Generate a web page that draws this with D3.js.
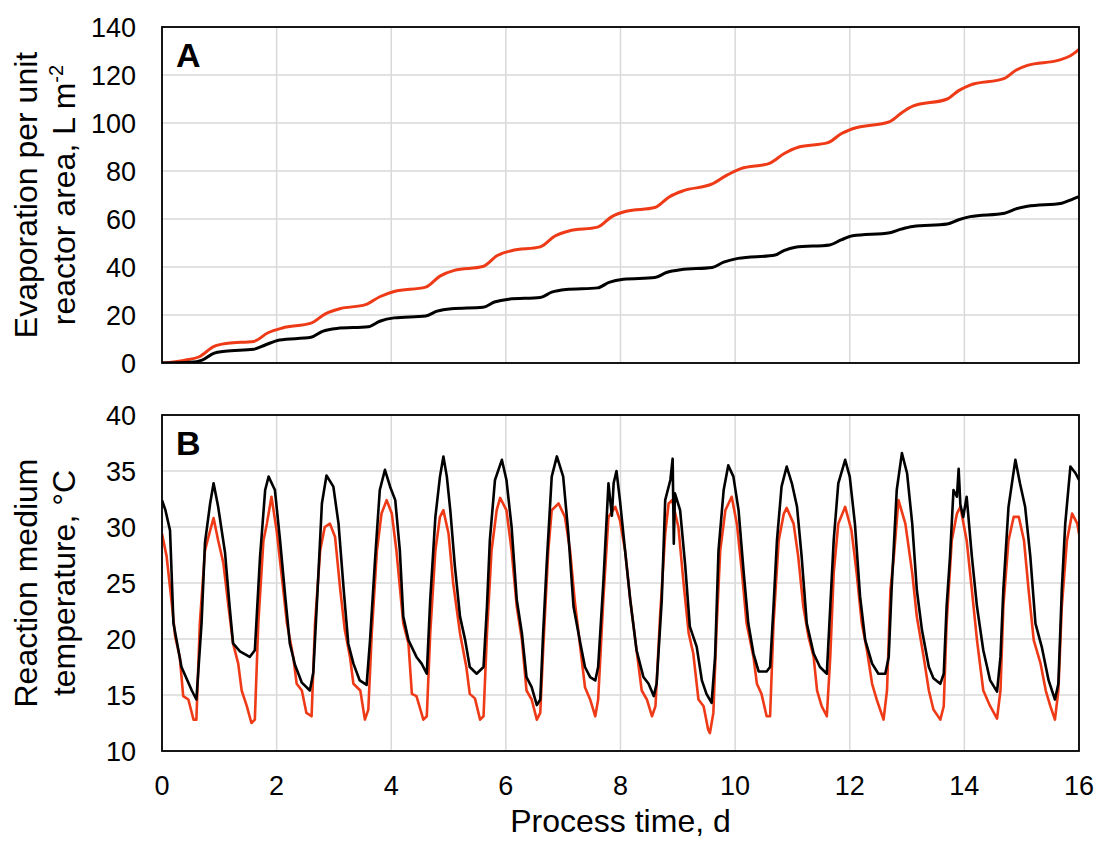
<!DOCTYPE html>
<html>
<head>
<meta charset="utf-8">
<script src="https://cdn.jsdelivr.net/npm/d3@7"></script>
<style>
  body { margin: 0; background: #fff; }
  svg { font-family: "Liberation Sans", Arial, sans-serif; }
</style>
</head>
<body>
<div class="canvas"></div>
<script>
// ---- data ----
const dayTicks = [0, 2, 4, 6, 8, 10, 12, 14, 16];
const evapTicks = [0, 20, 40, 60, 80, 100, 120, 140];
const tempTicks = [10, 15, 20, 25, 30, 35, 40];

// panel A: cumulative evaporation, [day, L m-2]
const evapRed = [[0,0],[0.4,1.2],[0.65,2.6],[0.9,6.8],[1.15,8.2],[1.6,9],[1.85,12.6],[2.1,14.6],
  [2.6,16.6],[2.85,20.5],[3.1,22.6],[3.55,24.3],[3.8,27.6],[4.05,29.8],[4.6,31.6],[4.85,36.2],
  [5.1,38.6],[5.6,40.2],[5.85,44.8],[6.1,46.8],[6.6,48.4],[6.85,52.8],[7.1,55],[7.6,56.6],
  [7.85,61],[8.1,63.2],[8.6,64.8],[8.85,69.2],[9.1,71.8],[9.6,74.6],[9.85,78.2],[10.1,81],
  [10.6,83.2],[10.85,87.2],[11.1,89.9],[11.62,91.8],[11.85,95.5],[12.05,97.6],[12.7,100.6],
  [12.92,104.5],[13.1,107],[13.7,110],[13.9,113.5],[14.1,115.8],[14.7,118.6],[14.9,122],
  [15.1,124],[15.65,126.2],[15.85,128],[16,130.7]];
const evapBlack = [[0,0],[0.5,0.3],[0.7,1.2],[0.9,4],[1.1,4.9],[1.6,5.7],[1.8,7.5],[2.05,9.6],
  [2.6,10.7],[2.8,13.2],[3.05,14.4],[3.6,15.1],[3.8,17.4],[4.05,18.8],[4.6,19.6],[4.8,21.6],
  [5.05,22.6],[5.6,23.2],[5.8,25.4],[6.05,26.6],[6.6,27.3],[6.8,29.5],[7.05,30.6],[7.6,31.3],
  [7.8,33.6],[8.05,34.9],[8.6,35.6],[8.8,37.7],[9.05,38.9],[9.6,39.8],[9.8,42],[10.05,43.6],
  [10.7,45],[10.85,46.8],[11.05,48.2],[11.65,49.2],[11.85,51.3],[12.05,53],[12.7,54.3],
  [12.9,55.8],[13.1,56.9],[13.7,57.9],[13.9,59.7],[14.1,61],[14.7,62.4],[14.9,64.2],
  [15.1,65.3],[15.7,66.6],[15.9,68.4],[16,69.3]];

// panel B: reaction medium temperature, [day, °C]
const tempBlack = [[0,32.4],[0.06,31.5],[0.14,29.7],[0.2,21.4],[0.34,17.5],[0.52,15.4],[0.6,14.6],
  [0.69,21.4],[0.75,28.6],[0.84,32.1],[0.9,33.9],[0.98,31.8],[1.1,27.7],[1.18,22.9],[1.24,19.6],
  [1.36,18.9],[1.53,18.4],[1.62,19],[1.71,27.3],[1.8,33.3],[1.86,34.5],[1.97,33.3],[2.06,28.8],
  [2.15,23.8],[2.23,19.6],[2.32,17.7],[2.44,16.1],[2.58,15.4],[2.64,17],[2.73,25.9],[2.79,32.1],
  [2.87,34.6],[2.99,33.6],[3.08,30.3],[3.17,24.4],[3.25,19.6],[3.34,17.8],[3.45,16.3],[3.57,15.9],
  [3.63,19.9],[3.72,27.3],[3.8,33.3],[3.89,35.1],[3.98,33.6],[4.07,32.4],[4.15,27.9],[4.21,22],
  [4.3,19.9],[4.44,18.4],[4.53,17.8],[4.62,16.9],[4.68,23.5],[4.77,30.9],[4.85,34.5],[4.91,36.3],
  [4.97,34.5],[5.03,31.5],[5.11,26.5],[5.2,22],[5.29,19.9],[5.37,17.5],[5.49,16.9],[5.61,17.5],
  [5.67,22.9],[5.72,28.8],[5.81,34.2],[5.93,36],[6.01,34.2],[6.1,30],[6.19,23.5],[6.28,20.5],
  [6.36,16.6],[6.45,15.7],[6.54,14.1],[6.6,14.6],[6.65,20.5],[6.71,26.5],[6.8,34.5],[6.89,36.3],
  [7,34.5],[7.09,29.4],[7.18,22.9],[7.3,19.6],[7.38,17.5],[7.47,16.6],[7.56,16.3],[7.61,17.5],
  [7.7,25],[7.79,33.9],[7.85,31],[7.88,33.9],[7.93,35],[7.99,32.4],[8.08,27.9],[8.17,23.5],
  [8.28,19],[8.4,16.6],[8.49,16],[8.58,14.9],[8.63,16],[8.72,23.5],[8.78,32.4],[8.87,34.2],
  [8.91,36.1],[8.93,28.5],[8.95,33],[9.04,31.5],[9.13,26.5],[9.21,21.1],[9.33,19.3],[9.42,16.3],
  [9.5,15.1],[9.59,14.3],[9.65,18.4],[9.71,27.9],[9.8,33.3],[9.88,35.5],[9.97,34.5],[10.06,31.5],
  [10.15,25.9],[10.23,21.4],[10.32,18.7],[10.41,17.1],[10.55,17.1],[10.61,17.5],[10.67,22.9],
  [10.73,28.8],[10.81,33.6],[10.9,35.4],[10.99,33.9],[11.08,31.8],[11.16,27.4],[11.25,21.4],
  [11.37,18.7],[11.48,17.5],[11.6,16.9],[11.66,22.9],[11.72,28.8],[11.8,33.9],[11.92,36],
  [12,34.5],[12.09,30.3],[12.18,23.8],[12.27,19.9],[12.39,17.8],[12.5,16.9],[12.62,16.9],
  [12.68,18.4],[12.73,24.4],[12.82,33.3],[12.91,36.6],[13,34.8],[13.09,30.3],[13.17,24.4],
  [13.26,20.8],[13.38,17.5],[13.46,16.5],[13.58,16],[13.64,16.9],[13.69,22.9],[13.75,27.4],
  [13.81,33.3],[13.87,32.7],[13.9,35.2],[13.93,32],[13.98,30.9],[14.04,32.7],[14.13,27.4],
  [14.22,22.9],[14.33,19],[14.45,16.3],[14.57,15.3],[14.63,18.4],[14.68,24.4],[14.77,31.8],
  [14.89,36],[14.97,33.9],[15.06,31.8],[15.15,27.4],[15.24,21.4],[15.35,19.3],[15.47,16.3],
  [15.58,14.6],[15.64,16],[15.7,24.4],[15.76,30.3],[15.85,35.4],[15.94,34.8],[16,34.2]];
const tempRed = [[0,29.4],[0.08,27.4],[0.17,23.2],[0.23,20.2],[0.31,18.4],[0.37,14.9],[0.46,14.6],
  [0.55,12.8],[0.6,12.8],[0.66,21.4],[0.75,27.9],[0.84,29.7],[0.9,30.8],[0.98,28.8],[1.07,26.8],
  [1.16,22.9],[1.24,19.6],[1.33,17.8],[1.39,15.4],[1.48,14],[1.56,12.5],[1.62,12.8],[1.68,21.4],
  [1.77,28.8],[1.83,30.3],[1.91,32.7],[2,29.7],[2.09,25.6],[2.18,21.4],[2.29,18.4],[2.35,16],
  [2.44,15.4],[2.52,13.4],[2.61,13.1],[2.67,21.4],[2.76,27.9],[2.84,30],[2.93,30.3],[3.02,29.1],
  [3.11,24.4],[3.19,20.8],[3.28,18.4],[3.34,16],[3.46,15.4],[3.54,12.8],[3.6,13.7],[3.66,20.5],
  [3.75,27.9],[3.83,31.2],[3.92,32.4],[4.01,31.2],[4.09,27.9],[4.21,21.4],[4.3,19.6],[4.36,15.1],
  [4.44,14.9],[4.56,12.8],[4.62,13.1],[4.68,20.5],[4.77,27.9],[4.85,30.9],[4.91,31.5],[5,29.4],
  [5.08,25],[5.2,20.5],[5.31,17.5],[5.37,15.1],[5.46,14.7],[5.55,12.8],[5.61,13.1],[5.67,20.5],
  [5.75,27.9],[5.84,31.5],[5.9,32.6],[6.01,31.5],[6.1,27.9],[6.19,22.9],[6.28,19.9],[6.36,15.4],
  [6.45,14.6],[6.54,12.8],[6.6,13.4],[6.65,19],[6.74,27.9],[6.8,31.5],[6.92,32.1],[7.03,30.9],
  [7.12,27.9],[7.2,23.5],[7.29,19.6],[7.38,15.7],[7.47,14.6],[7.56,13.1],[7.61,14.6],[7.7,23.5],
  [7.79,30.9],[7.91,31.8],[7.99,30.6],[8.08,27.9],[8.17,23.5],[8.28,19],[8.37,15.4],[8.46,14.6],
  [8.55,13.1],[8.61,14],[8.69,22],[8.78,29.4],[8.84,32.1],[8.9,32.4],[9.01,30],[9.1,25],
  [9.19,20.5],[9.27,18.7],[9.36,14.6],[9.45,14],[9.53,11.9],[9.56,11.6],[9.62,13.4],[9.68,21.4],
  [9.74,27.9],[9.83,31.5],[9.94,32.7],[10.03,30.3],[10.12,25.9],[10.2,21.4],[10.32,18.4],
  [10.38,16],[10.46,15.1],[10.55,13.1],[10.61,13.1],[10.67,21.4],[10.76,28.8],[10.85,31.2],
  [10.9,31.7],[11.02,30.3],[11.1,27.4],[11.19,22.9],[11.28,20.2],[11.37,18.4],[11.43,15.4],
  [11.51,14],[11.6,13.1],[11.66,18.4],[11.72,25.9],[11.8,30.3],[11.92,31.8],[12.03,29.7],
  [12.12,25.9],[12.21,21.4],[12.3,19],[12.39,16],[12.47,14.6],[12.59,12.8],[12.65,15.4],
  [12.71,24.4],[12.77,27.4],[12.85,32.4],[12.97,30.3],[13.09,25.9],[13.17,22],[13.29,18.4],
  [13.38,15.4],[13.46,13.7],[13.58,12.8],[13.64,14],[13.69,21.4],[13.78,28.8],[13.87,31.2],
  [13.93,31.8],[14.04,28.8],[14.13,24.4],[14.22,19.9],[14.33,15.4],[14.45,14],[14.57,12.9],
  [14.63,15.4],[14.68,22.9],[14.77,28.8],[14.86,30.9],[14.95,30.9],[15.04,28.8],[15.12,24.4],
  [15.21,19.9],[15.33,17.8],[15.42,15.4],[15.5,14],[15.58,12.8],[15.64,15.4],[15.7,22.9],
  [15.79,28.8],[15.88,31.2],[15.97,30.3],[16,29.4]];

const RED = "#ee3a16";
const GRID = "#d9d9d9";

const dims = {width: 1099, height: 841};
const plot = {left: 162, right: 1079};
const panels = [
  {top: 27, bottom: 363, domain: [0, 140], ticks: evapTicks, letter: "A", curve: d3.curveMonotoneX,
   series: [{data: evapRed, color: RED, w: 3}, {data: evapBlack, color: "#000", w: 3}],
   title: ["Evaporation per unit", "reactor area, L m"], sup: "-2"},
  {top: 415, bottom: 751, domain: [10, 40], ticks: tempTicks, letter: "B", curve: d3.curveLinear,
   series: [{data: tempRed, color: RED, w: 2.6}, {data: tempBlack, color: "#000", w: 2.6}],
   title: ["Reaction medium", "temperature, \u00b0C"]}
];

const svg = d3.select(".canvas").append("svg")
    .attr("width", dims.width)
    .attr("height", dims.height);

const x = d3.scaleLinear().domain([0, 16]).range([plot.left, plot.right]);

panels.forEach((p, k) => {
  const y = d3.scaleLinear().domain(p.domain).range([p.bottom, p.top]);
  const g = svg.append("g");

  // gridlines
  g.selectAll(".hgrid").data(p.ticks).enter().append("line")
      .attr("x1", plot.left).attr("x2", plot.right)
      .attr("y1", d => y(d)).attr("y2", d => y(d))
      .attr("stroke", GRID).attr("stroke-width", 1.5);
  g.selectAll(".vgrid").data(dayTicks).enter().append("line")
      .attr("x1", d => x(d)).attr("x2", d => x(d))
      .attr("y1", p.top).attr("y2", p.bottom)
      .attr("stroke", GRID).attr("stroke-width", 1.5);

  // y tick labels
  g.selectAll(".ylab").data(p.ticks).enter().append("text")
      .attr("x", 136).attr("y", d => y(d) + 9.5)
      .attr("text-anchor", "end")
      .attr("font-size", 27)
      .text(d => d);

  // clip and lines
  svg.append("clipPath").attr("id", "clip" + k)
    .append("rect")
      .attr("x", plot.left).attr("y", p.top)
      .attr("width", plot.right - plot.left).attr("height", p.bottom - p.top);

  const line = d3.line().curve(p.curve).x(d => x(d[0])).y(d => y(d[1]));
  p.series.forEach(s => {
    g.append("path")
        .attr("clip-path", `url(#clip${k})`)
        .attr("d", line(s.data))
        .attr("fill", "none")
        .attr("stroke", s.color)
        .attr("stroke-width", s.w)
        .attr("stroke-linejoin", "round");
  });

  // frame
  g.append("rect")
      .attr("x", plot.left).attr("y", p.top)
      .attr("width", plot.right - plot.left).attr("height", p.bottom - p.top)
      .attr("fill", "none").attr("stroke", "#000").attr("stroke-width", 1.8);

  // panel letter
  g.append("text")
      .attr("x", 176).attr("y", p.top + 40)
      .attr("font-size", 34).attr("font-weight", "bold")
      .text(p.letter);

  // y title (two lines, rotated)
  const cy = (p.top + p.bottom) / 2;
  p.title.forEach((t, i) => {
    const tx = g.append("text")
        .attr("transform", `translate(${37 + i * 38},${cy}) rotate(-90)`)
        .attr("text-anchor", "middle")
        .attr("font-size", 32);
    tx.append("tspan").text(t);
    if (i === 1 && p.sup) {
      tx.append("tspan").attr("dy", -12).attr("font-size", 20).text(p.sup);
    }
  });
});

// x tick labels (bottom panel only)
svg.selectAll(".xlab").data(dayTicks).enter().append("text")
    .attr("x", d => x(d)).attr("y", 795)
    .attr("text-anchor", "middle")
    .attr("font-size", 27)
    .text(d => d);

svg.append("text")
    .attr("x", (plot.left + plot.right) / 2).attr("y", 832)
    .attr("text-anchor", "middle")
    .attr("font-size", 32)
    .text("Process time, d");
</script>
</body>
</html>
